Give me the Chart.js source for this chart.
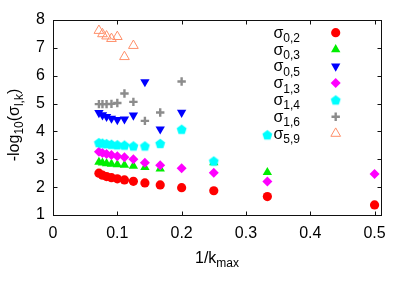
<!DOCTYPE html>
<html>
<head>
<meta charset="utf-8">
<script src="https://cdn.jsdelivr.net/npm/chart.js@4.4.1/dist/chart.umd.min.js"></script>
<style>
  html, body { margin: 0; padding: 0; background: #fff; }
  #wrap { width: 412px; height: 288px; }
</style>
</head>
<body>
<div id="wrap"><canvas id="chart" width="412" height="288"></canvas></div>
<script>
// 1/k_max for k_max = 14 ... 2
const invKmax = [0.0714, 0.0769, 0.0833, 0.0909, 0.1, 0.1111, 0.125, 0.1429, 0.1667, 0.2, 0.25, 0.3333, 0.5];

const sigma02 = [2.50, 2.43, 2.38, 2.34, 2.30, 2.26, 2.21, 2.15, 2.08, 1.98, 1.87, 1.66, 1.36];
const sigma03 = [2.90, 2.87, 2.85, 2.83, 2.81, 2.79, 2.76, 2.71, 2.66, null, 2.88, 2.53, null];
const sigma05 = [4.67, 4.59, 4.53, 4.47, 4.42, 4.44, 4.58, 5.78, 4.08, 4.68, null, null, null];
const sigma13 = [3.27, 3.23, 3.19, 3.15, 3.11, 3.07, 3.00, 2.88, 2.79, 2.68, 2.52, 2.20, 2.47];
const sigma14 = [3.60, 3.58, 3.56, 3.54, 3.52, 3.51, 3.48, 3.48, 3.57, 4.08, 2.94, 3.88, null];
const sigma16 = [4.98, 4.98, 4.98, 4.99, 5.02, 5.36, 5.06, 4.38, 4.68, 5.79, null, null, null];
const sigma59 = [7.62, 7.50, 7.42, 7.33, 7.40, 6.68, 7.08, null, null, null, null, null, null];

const xTicks = [0, 0.1, 0.2, 0.3, 0.4, 0.5];
const yTicks = [1, 2, 3, 4, 5, 6, 7, 8];

const FONT = "'Liberation Sans', Arial, sans-serif";

function pentagon(color, r) {
  const c = document.createElement("canvas");
  const s = Math.ceil(r * 2 + 2);
  c.width = c.height = s;
  const g = c.getContext("2d");
  g.fillStyle = color;
  g.beginPath();
  for (let i = 0; i < 5; i++) {
    const a = -Math.PI / 2 + i * 2 * Math.PI / 5;
    g.lineTo(s / 2 + r * Math.cos(a), s / 2 + r * Math.sin(a) + 0.5);
  }
  g.closePath();
  g.fill();
  return c;
}

const series = [
  { sub: "0,2", values: sigma02, color: "#ff0000", style: "circle", radius: 4.6, rot: 0, fill: true },
  { sub: "0,3", values: sigma03, color: "#00ee00", style: "triangle", radius: 5.4, rot: 0, fill: true },
  { sub: "0,5", values: sigma05, color: "#0000ff", style: "triangle", radius: 5.4, rot: 180, fill: true },
  { sub: "1,3", values: sigma13, color: "#ff00ff", style: "rectRot", radius: 5, rot: 0, fill: true },
  { sub: "1,4", values: sigma14, color: "#00ffff", style: pentagon("#00ffff", 5.2), radius: 5, rot: 0, fill: true },
  { sub: "1,6", values: sigma16, color: "#8c8c8c", style: "cross", radius: 4.2, rot: 0, fill: false, width: 2.4 },
  { sub: "5,9", values: sigma59, color: "#ff8f6a", style: "triangle", radius: 5.6, rot: 0, fill: false, width: 1 }
];

const datasets = series.map((s, i) => ({
  label: "σ" + s.sub,
  data: invKmax.map((x, j) => ({ x, y: s.values[j] })).filter(p => p.y !== null),
  pointStyle: s.style,
  pointRadius: s.radius,
  pointRotation: s.rot,
  backgroundColor: s.fill ? s.color : "rgba(0,0,0,0)",
  borderColor: s.color,
  borderWidth: s.fill ? 0 : s.width,
  order: -i
}));

function partsWidth(ctx, parts, main, sub) {
  let w = 0;
  for (const [t, isSub] of parts) {
    ctx.font = (isSub ? sub : main) + "px " + FONT;
    w += ctx.measureText(t).width;
  }
  return w;
}

// draws text with subscripts, x is the left start, y the baseline
function drawParts(ctx, parts, x, y, main, sub, drop) {
  for (const [t, isSub] of parts) {
    ctx.font = (isSub ? sub : main) + "px " + FONT;
    ctx.fillText(t, x, isSub ? y + drop : y);
    x += ctx.measureText(t).width;
  }
}

const decor = {
  id: "decor",
  afterDraw(chart) {
    const { ctx, chartArea: a, scales } = chart;
    ctx.save();
    ctx.strokeStyle = "#111";
    ctx.lineWidth = 1;
    const L = Math.round(a.left) + 0.5, R = Math.round(a.right) + 0.5;
    const T = Math.round(a.top) + 0.5, B = Math.round(a.bottom) + 0.5;
    ctx.strokeRect(L, T, R - L, B - T);
    const tl = 4;
    ctx.beginPath();
    for (const v of xTicks) {
      const px = Math.round(scales.x.getPixelForValue(v)) + 0.5;
      ctx.moveTo(px, B); ctx.lineTo(px, B - tl);
      ctx.moveTo(px, T); ctx.lineTo(px, T + tl);
    }
    for (const v of yTicks) {
      const py = Math.round(scales.y.getPixelForValue(v)) + 0.5;
      ctx.moveTo(L, py); ctx.lineTo(L + tl, py);
      ctx.moveTo(R, py); ctx.lineTo(R - tl, py);
    }
    ctx.stroke();

    ctx.fillStyle = "#000";
    ctx.textBaseline = "alphabetic";
    ctx.textAlign = "left";

    // x title
    const xt = [["1/k", false], ["max", true]];
    const xw = partsWidth(ctx, xt, 16, 12);
    drawParts(ctx, xt, (a.left + a.right) / 2 - xw / 2, 263, 16, 12, 4);

    // y title
    const yt = [["-log", false], ["10", true], ["(σ", false], ["l,k", true], [")", false]];
    const yw = partsWidth(ctx, yt, 16, 12);
    ctx.save();
    ctx.translate(19, 125);
    ctx.rotate(-Math.PI / 2);
    drawParts(ctx, yt, -yw / 2, 0, 16, 12, 4);
    ctx.restore();

    // legend
    series.forEach((s, i) => {
      const cy = 32.7 + i * 16.8;
      const parts = [["σ", false], [s.sub, true]];
      const w = partsWidth(ctx, parts, 16, 12);
      ctx.fillStyle = "#000";
      drawParts(ctx, parts, 300 - w, cy + 5, 16, 12, 4.5);
      ctx.fillStyle = s.fill ? s.color : "rgba(0,0,0,0)";
      ctx.strokeStyle = s.color;
      ctx.lineWidth = s.fill ? 0 : s.width;
      Chart.helpers.drawPoint(ctx, {
        pointStyle: s.style, radius: s.radius, rotation: s.rot,
        borderWidth: s.fill ? 0 : s.width
      }, 335.7, cy);
    });
    ctx.restore();
  }
};

Chart.defaults.font.family = FONT;
Chart.defaults.font.size = 16;
Chart.defaults.color = "#000";

new Chart(document.getElementById("chart").getContext("2d"), {
  type: "scatter",
  data: { datasets },
  options: {
    responsive: false,
    animation: false,
    events: [],
    layout: { padding: { top: 20, right: 31, left: 0, bottom: 0 } },
    plugins: { legend: { display: false }, tooltip: { enabled: false } },
    scales: {
      x: {
        type: "linear",
        min: 0,
        max: 0.51,
        grid: { display: false, drawTicks: false },
        border: { display: false },
        afterBuildTicks: (s) => { s.ticks = xTicks.map(v => ({ value: v })); },
        afterFit: (s) => { s.height = 73; },
        ticks: { padding: 9, maxRotation: 0, callback: (v) => String(v) }
      },
      y: {
        type: "linear",
        min: 1,
        max: 8,
        grid: { display: false, drawTicks: false },
        border: { display: false },
        afterBuildTicks: (s) => { s.ticks = yTicks.map(v => ({ value: v })); },
        afterFit: (s) => { s.width = 53; },
        ticks: { padding: 8, callback: (v) => String(v) }
      }
    }
  },
  plugins: [decor]
});
</script>
</body>
</html>
